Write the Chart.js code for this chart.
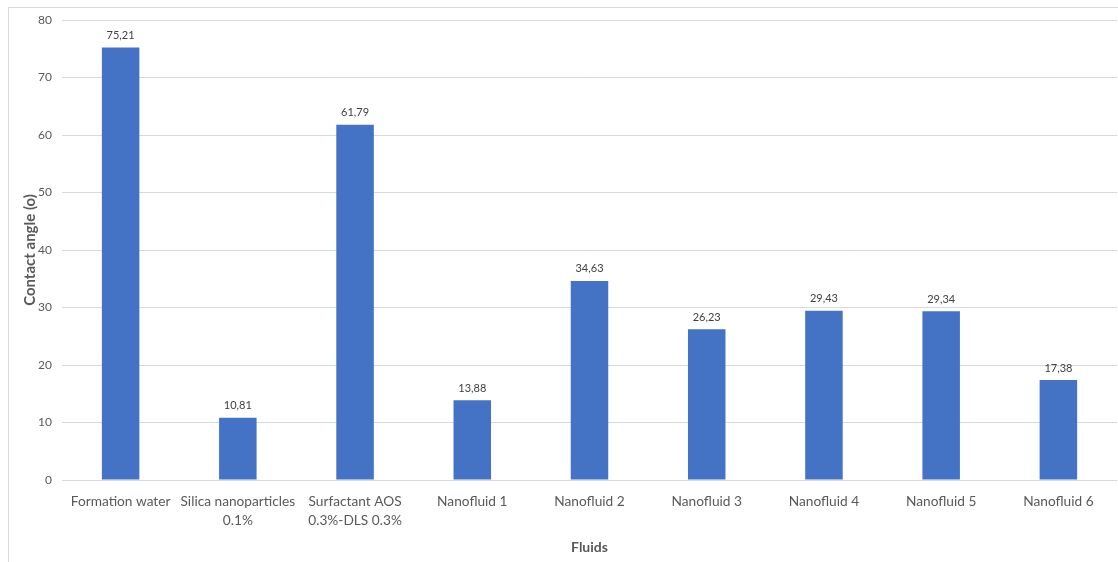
<!DOCTYPE html>
<html>
<head>
<meta charset="utf-8">
<title>Contact angle by fluid</title>
<script src="https://cdn.jsdelivr.net/npm/chart.js@4.4.1/dist/chart.umd.min.js"></script>
<style>
  html, body { margin: 0; padding: 0; background: #fff; }
  #wrap { position: relative; width: 1118px; height: 562px; }
  #frame {
    position: absolute; left: 8px; top: 7px; right: 0; bottom: 0;
    border-top: 1px solid #d9d9d9; border-left: 1px solid #d9d9d9;
    pointer-events: none;
  }
</style>
</head>
<body>
<div id="wrap">
  <canvas id="chart" width="1118" height="562"></canvas>
  <div id="frame"></div>
</div>
<script>
// Fluids tested and the measured contact angle for each
const fluids = [
  'Formation water',
  ['Silica nanoparticles', '0.1%'],
  ['Surfactant AOS', '0.3%-DLS 0.3%'],
  'Nanofluid 1',
  'Nanofluid 2',
  'Nanofluid 3',
  'Nanofluid 4',
  'Nanofluid 5',
  'Nanofluid 6'
];
const contactAngle = [75.21, 10.81, 61.79, 13.88, 34.63, 26.23, 29.43, 29.34, 17.38];
const yTicks = [0, 10, 20, 30, 40, 50, 60, 70, 80];

const FONT = 'Lato, "Open Sans", sans-serif';
const TEXT = '#595959';

// writes the value above each bar, with a decimal comma
const valueLabels = {
  id: 'valueLabels',
  afterDatasetsDraw(chart) {
    const ctx = chart.ctx;
    const meta = chart.getDatasetMeta(0);
    ctx.save();
    ctx.font = '11px ' + FONT;
    ctx.fillStyle = '#404040';
    ctx.textAlign = 'center';
    ctx.textBaseline = 'middle';
    meta.data.forEach((bar, i) => {
      const txt = contactAngle[i].toFixed(2).replace('.', ',');
      ctx.fillText(txt, bar.x, bar.y - 12);
    });
    ctx.restore();
  }
};

new Chart(document.getElementById('chart'), {
  type: 'bar',
  data: {
    labels: fluids,
    datasets: [{
      data: contactAngle,
      backgroundColor: '#4472C4',
      borderWidth: 0,
      barPercentage: 0.32,
      categoryPercentage: 1
    }]
  },
  options: {
    responsive: false,
    animation: false,
    layout: { padding: { top: 20, right: 1, left: 0, bottom: 0 } },
    plugins: {
      legend: { display: false },
      tooltip: { enabled: false }
    },
    scales: {
      x: {
        grid: { display: false, drawTicks: false },
        border: { display: false },
        ticks: {
          color: TEXT,
          font: { family: FONT, size: 13.7, lineHeight: 1.4 },
          padding: 12,
          maxRotation: 0,
          autoSkip: false
        },
        title: {
          display: true,
          text: 'Fluids',
          color: TEXT,
          font: { family: FONT, size: 14, weight: 'bold' },
          padding: { bottom: 6 }
        },
        afterFit(scale) { scale.height = 82; }
      },
      y: {
        min: 0,
        max: 80,
        afterBuildTicks(scale) { scale.ticks = yTicks.map(v => ({ value: v })); },
        grid: { color: '#d9d9d9', drawTicks: false },
        border: { display: false },
        ticks: {
          color: TEXT,
          font: { family: FONT, size: 12 },
          padding: 10
        },
        title: {
          display: true,
          text: 'Contact angle (o)',
          color: TEXT,
          font: { family: FONT, size: 15, weight: 'bold' },
          padding: { top: 21 }
        },
        afterFit(scale) { scale.width = 62; }
      }
    }
  },
  plugins: [valueLabels]
});
</script>
</body>
</html>
